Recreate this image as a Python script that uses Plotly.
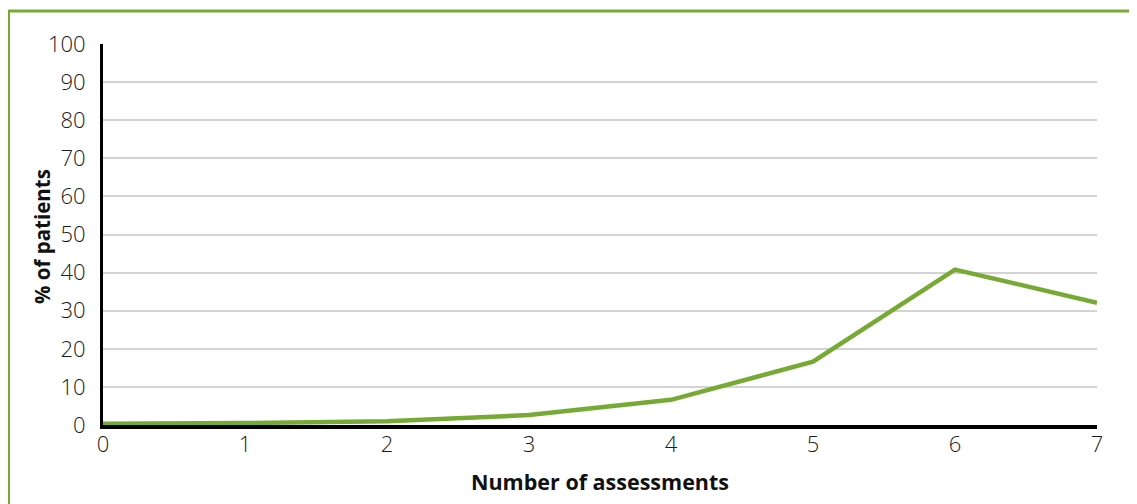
import plotly.graph_objects as go

assessments = [0, 1, 2, 3, 4, 5, 6, 7]
pct_patients = [0.3, 0.5, 1.0, 2.6, 6.6, 16.6, 40.8, 32.1]
x_ticks = [0, 1, 2, 3, 4, 5, 6, 7]
y_ticks = [0, 10, 20, 30, 40, 50, 60, 70, 80, 90, 100]

GREEN = "#77aa35"
FONT = "Open Sans"

fig = go.Figure()
fig.add_trace(go.Scatter(
    x=assessments, y=pct_patients, mode="lines",
    line=dict(color=GREEN, width=4.5), cliponaxis=False, showlegend=False,
))

# page body has an 8px margin; figure coordinates = screen - 8
OFF = 8
W, H = 1137, 504
L, T = 103 - OFF, 44 - OFF
R = W - (1097 - OFF)
B = H - (425 - OFF)
pw, ph = W - L - R, H - T - B

def px(x):
    return (x - OFF - L) / pw

def py(y):
    return (H - B - (y - OFF)) / ph

fig.update_layout(
    width=W, height=H,
    margin=dict(l=L, r=R, t=T, b=B),
    paper_bgcolor="white", plot_bgcolor="white",
    font=dict(family=FONT, color="#222222", size=20),
    xaxis=dict(
        range=[0, 7], tickmode="array", tickvals=x_ticks,
        showgrid=False, zeroline=False,
        showline=True, linecolor="black", linewidth=3.5,
        ticks="", ticklabelstandoff=-3,
        tickfont=dict(family=FONT, size=22, color="#1a1a1a", weight=300),
        title=dict(text="Number of assessments", standoff=19,
                   font=dict(family=FONT, size=21.5, color="#111111", weight=700)),
    ),
    yaxis=dict(
        range=[0, 100], tickmode="array", tickvals=y_ticks,
        showgrid=True, gridcolor="#d3d3d3", gridwidth=1.5, zeroline=False,
        showline=True, linecolor="black", linewidth=3,
        ticks="", ticklabelstandoff=10,
        tickfont=dict(family=FONT, size=22, color="#1a1a1a", weight=300),
    ),
    annotations=[
        dict(text="% of patients", xref="paper", yref="paper",
             x=px(42), y=py(237), xanchor="center", yanchor="middle",
             textangle=-90, showarrow=False,
             font=dict(family=FONT, size=20.5, color="#111111", weight=700)),
    ],
    shapes=[
        dict(type="line", xref="paper", yref="paper",
             x0=px(8.5), x1=px(8.5), y0=py(10), y1=py(530),
             line=dict(color=GREEN, width=3)),
        dict(type="line", xref="paper", yref="paper",
             x0=px(7), x1=px(1160), y0=py(11), y1=py(11),
             line=dict(color=GREEN, width=3)),
    ],
)

fig.write_html("out.html")
